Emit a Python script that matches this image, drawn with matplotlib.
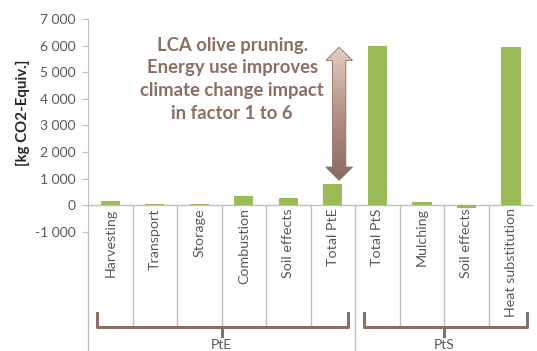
import numpy as np
import matplotlib.pyplot as plt
from matplotlib.patches import Polygon
from matplotlib.colors import LinearSegmentedColormap

plt.rcParams['font.family'] = ['Lato', 'DejaVu Sans']

# data
categories = ['Harvesting', 'Transport', 'Storage', 'Combustion', 'Soil effects',
              'Total PtE', 'Total PtS', 'Mulching', 'Soil effects', 'Heat substitution']
values = [150, 45, 45, 340, 260, 820, 6000, 120, -100, 5950]
groups = ['PtE', 'PtS']
group_sizes = [6, 4]
note = 'LCA olive pruning.\nEnergy use improves\nclimate change impact\nin factor 1 to 6'

green = '#9BBB59'
brown = '#8C6F63'
grey = '#BFBFBF'
txt = '#595959'

fig = plt.figure(figsize=(5.37, 3.51), dpi=100)
ax = fig.add_axes([0.164, 0.339, 0.829, 0.607])

x = np.arange(len(categories))
ax.bar(x, values, width=0.43, color=green, zorder=3)

ax.set_xlim(-0.5, len(categories) - 0.5)
ax.set_ylim(-1000, 7000)
yt = list(range(-1000, 7001, 1000))
ax.set_yticks(yt)
ax.set_yticklabels([f'{v:,}'.replace(',', ' ') for v in yt], fontsize=10, color=txt)
ax.tick_params(axis='y', length=4, color=grey, pad=5)
ax.set_xticks([])
for s in ['top', 'right', 'bottom']:
    ax.spines[s].set_visible(False)
ax.spines['left'].set_color(grey)
ax.axhline(0, color=grey, lw=1, zorder=2)

# lower part: separators, labels, brackets
bottom = -5600
ax.plot([-0.5, -0.5], [-1000, bottom], color=grey, lw=1, clip_on=False)
bounds = np.cumsum(group_sizes) - 0.5
for i in range(len(categories) - 1):
    b = i + 0.5
    y_end = bottom if b in bounds[:-1] else -4500
    ax.plot([b, b], [0, y_end], color=grey, lw=1, clip_on=False)

for i, c in enumerate(categories):
    ax.text(i, -110, c, rotation=90, ha='center', va='top', fontsize=10.3, color=txt)

start = -0.5
for g, n in zip(groups, group_sizes):
    end = start + n
    l, r = start + 0.2, end - 0.15
    mid = (start + end) / 2
    ax.plot([l, l, r, r], [-4050, -4550, -4550, -4050], color=brown, lw=2.2,
            clip_on=False, solid_joinstyle='round')
    ax.plot([mid, mid], [-4550, -4900], color=brown, lw=2.2, clip_on=False)
    ax.text(mid, -5250, g, ha='center', va='center', fontsize=10, color=txt)
    start = end

# double arrow between the totals
xa = 5.14
y_bot = values[5] + 120
y_top = values[6] - 60
hw, sw, hl = 0.3, 0.15, 500
verts = [(xa, y_top), (xa + hw, y_top - hl), (xa + sw, y_top - hl),
         (xa + sw, y_bot + hl), (xa + hw, y_bot + hl), (xa, y_bot),
         (xa - hw, y_bot + hl), (xa - sw, y_bot + hl), (xa - sw, y_top - hl),
         (xa - hw, y_top - hl)]
arrow = Polygon(verts, closed=True, facecolor='none', edgecolor='#8E6E62',
                lw=0.6, zorder=5)
ax.add_patch(arrow)
cmap = LinearSegmentedColormap.from_list('arr', ['#8A6A5E', '#B39186', '#E8CEC5'])
grad = np.linspace(0, 1, 256).reshape(-1, 1)
im = ax.imshow(grad, extent=[xa - hw, xa + hw, y_bot, y_top], origin='lower',
               aspect='auto', cmap=cmap, zorder=4)
im.set_clip_path(arrow)
ax.set_xlim(-0.5, len(categories) - 0.5)
ax.set_ylim(-1000, 7000)

ax.text(2.74, 4740, note, ha='center', va='center', fontsize=13.3,
        fontweight='bold', color=brown, linespacing=1.4)

fig.text(0.043, 0.678, '[kg CO2-Equiv.]', rotation=90, ha='center', va='center',
         fontsize=10.8, fontweight='bold', color='#262626')

fig.savefig('out.png', dpi=100)
